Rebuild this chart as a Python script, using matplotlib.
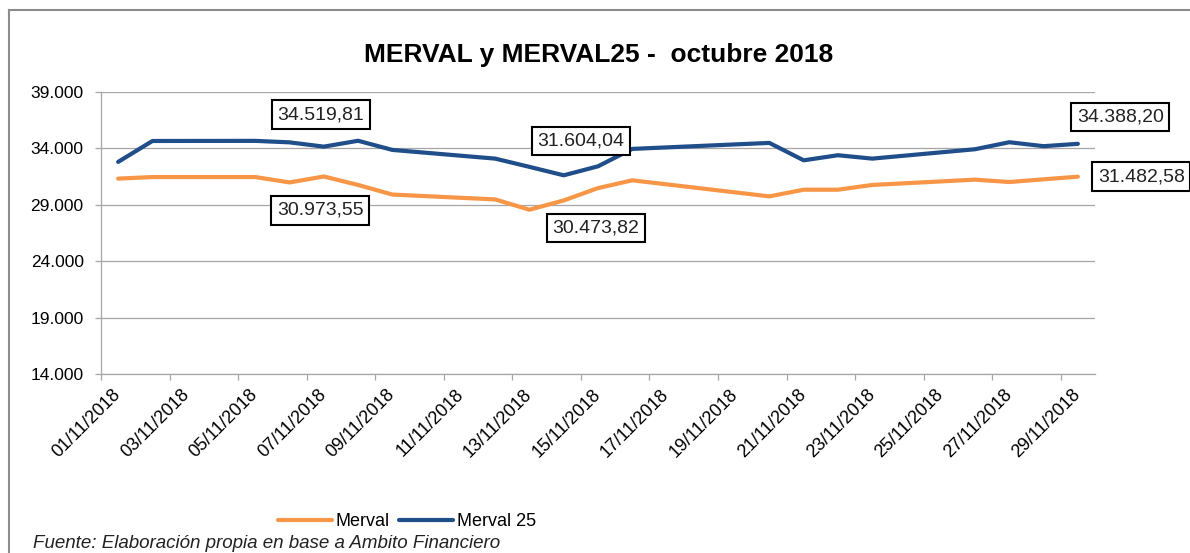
import matplotlib
matplotlib.use("Agg")
import matplotlib.pyplot as plt
from matplotlib.lines import Line2D
from matplotlib.ticker import FixedLocator, FuncFormatter

plt.rcParams['font.family'] = ['Liberation Sans', 'DejaVu Sans']

# dias de noviembre 2018 con cotizacion
dias = [1, 2, 5, 6, 7, 8, 9, 12, 13, 14, 15, 16, 20, 21, 22, 23, 26, 27, 28, 29]
merval = [31310, 31450, 31450, 30973.55, 31500, 30750, 29900, 29470, 28560, 29380,
          30473.82, 31160, 29740, 30330, 30330, 30750, 31220, 31010, 31250, 31482.58]
merval25 = [32790, 34640, 34650, 34519.81, 34140, 34660, 33850, 33080, 32350, 31604.04,
            32400, 33940, 34470, 32930, 33380, 33080, 33910, 34530, 34180, 34388.20]

dias_etiqueta = [1, 3, 5, 7, 9, 11, 13, 15, 17, 19, 21, 23, 25, 27, 29]
etiquetas_x = [f"{d:02d}/11/2018" for d in dias_etiqueta]
y_ticks = [14000, 19000, 24000, 29000, 34000, 39000]

C = {
    'naranja': '#F79646',
    'azul': '#1F4E8A',
    'grilla': '#A6A6A6',
    'marco': '#8C8C8C',
}

W, H = 1190, 553
fig = plt.figure(figsize=(W / 100, H / 100), dpi=100)
ax = fig.add_axes([101 / W, 1 - 374.3 / H, 994 / W, 282.6 / H])

ax.plot(dias, merval, color=C['naranja'], lw=3, label='Merval', solid_capstyle='round')
ax.plot(dias, merval25, color=C['azul'], lw=3, label='Merval 25', solid_capstyle='round')

ax.set_xlim(0.5, 29.5)
ax.set_ylim(14000, 39000)
ax.set_yticks(y_ticks)
ax.yaxis.set_major_formatter(FuncFormatter(lambda v, p: f"{v:,.0f}".replace(',', '.')))
ax.grid(axis='y', color=C['grilla'], lw=0.9)
ax.set_axisbelow(True)

# etiquetas en el centro del dia, marcas entre dias
ax.xaxis.set_major_locator(FixedLocator(dias_etiqueta))
ax.set_xticklabels(etiquetas_x, rotation=45, ha='right', va='center', rotation_mode='anchor')
ax.xaxis.set_minor_locator(FixedLocator([d - 0.5 for d in dias_etiqueta]))
ax.tick_params(axis='x', which='major', length=0, pad=13, labelsize=13, colors='#000000')
ax.tick_params(axis='x', which='minor', length=4.5, width=0.9, color=C['grilla'], direction='out')
ax.tick_params(axis='y', length=4.5, width=0.9, color=C['grilla'], pad=8, labelsize=12.5)

for s in ['top', 'right']:
    ax.spines[s].set_visible(False)
for s in ['left', 'bottom']:
    ax.spines[s].set_color(C['grilla'])
    ax.spines[s].set_linewidth(0.9)


def fmt_es(v):
    return f"{v:,.2f}".replace(',', 'X').replace('.', ',').replace('X', '.')


# etiquetas de datos: (serie, dia, desplazamiento en puntos)
etiquetas = [
    (merval25, 6, (22.7, 19.9)),
    (merval, 6, (22.0, -20.2)),
    (merval25, 14, (12.4, 24.7)),
    (merval, 15, (-1.4, -28.7)),
    (merval25, 29, (30.5, 19.3)),
    (merval, 29, (45.6, 0)),
]
for serie, d, off in etiquetas:
    v = serie[dias.index(d)]
    ax.annotate(fmt_es(v), xy=(d, v), xytext=off, textcoords='offset points',
                ha='center', va='center', fontsize=14, color='#222222',
                bbox=dict(boxstyle='square,pad=0.3', fc='white', ec='black', lw=1.5),
                annotation_clip=False)

fig.text(599 / W, 1 - 55 / H, 'MERVAL y MERVAL25 -  octubre 2018', ha='center', va='center',
         fontsize=19, fontweight='bold')

fig.legend(loc='center', bbox_to_anchor=(407 / W, 1 - 522 / H), ncol=2, frameon=False,
           fontsize=13, handlelength=3.0, handletextpad=0.2, columnspacing=0.5)

fig.text(33 / W, 1 - 543 / H, 'Fuente: Elaboración propia en base a Ambito Financiero',
         ha='left', va='center', fontsize=13.5, style='italic', color='#222222')

# marco del grafico
fig.add_artist(Line2D([9 / W, 1.0], [1 - 10 / H, 1 - 10 / H], color=C['marco'], lw=1.5,
                      transform=fig.transFigure))
fig.add_artist(Line2D([9 / W, 9 / W], [0, 1 - 10 / H], color=C['marco'], lw=1.5,
                      transform=fig.transFigure))

fig.savefig('out.png', dpi=100, facecolor='white')
